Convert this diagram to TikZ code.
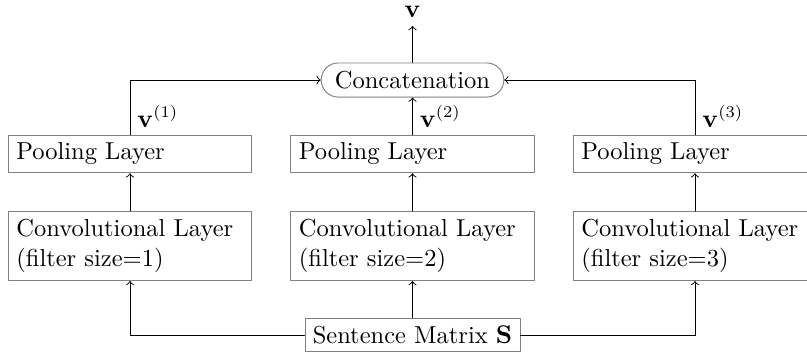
\documentclass[tikz,border=0pt]{standalone}
\usepackage{amsmath,amssymb}
\usetikzlibrary{shapes.misc}
\begin{document}
\begin{tikzpicture}[line cap=round,line join=round,>=to,x=0.015066cm,y=-0.015066cm,
every node/.style={font=\fontsize{10.5}{12.9}\selectfont},
layerbox/.style={draw=gray,text width=97.4pt,align=left,inner xsep=3.5pt},
catbox/.style={draw=gray,rounded rectangle,minimum height=14.6pt,inner ysep=2pt,inner xsep=4.8pt}]
\useasboundingbox (0,0) rectangle (807,352);
% Các khối
\node[layerbox] (conv1) at (130,246) {Convolutional Layer\\(filter size=1)};
\node[layerbox] (conv2) at (412.5,246) {Convolutional Layer\\(filter size=2)};
\node[layerbox] (conv3) at (695,246) {Convolutional Layer\\(filter size=3)};
\node[layerbox] (pool1) at (130,154) {Pooling Layer};
\node[layerbox] (pool2) at (412.5,154) {Pooling Layer};
\node[layerbox] (pool3) at (695,154) {Pooling Layer};
\node[draw=gray] (sent) at (412.5,335) {Sentence Matrix $\mathbf{S}$};
\node[catbox] (cat) at (412.5,80) {Concatenation};
\node (vout) at (412.5,12) {$\mathbf{v}$};
% Các mũi tên
\draw[->] (sent.west) -| (conv1.south);
\draw[->] (sent) -- (conv2);
\draw[->] (sent.east) -| (conv3.south);
\foreach \i in {1,2,3}
\draw[->] (conv\i) -- (pool\i);
\draw[->] (pool1.north) |- (cat.west);
\draw[->] (pool2) -- (cat);
\draw[->] (pool3.north) |- (cat.east);
\draw[->] (cat) -- (vout);
% Nhãn
\foreach \i in {1,2,3}
\node[anchor=south west,inner sep=3pt] (lab\i) at (pool\i.north) {$\mathbf{v}^{(\i)}$};
\end{tikzpicture}
\end{document}
